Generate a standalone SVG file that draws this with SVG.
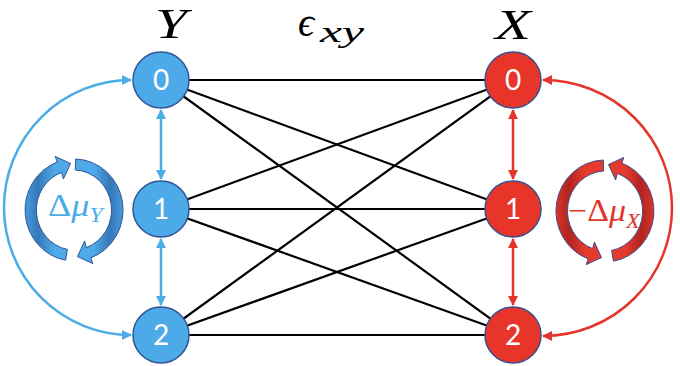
<svg xmlns="http://www.w3.org/2000/svg" width="680" height="366" viewBox="0 0 680 366">
<style>
.edge{stroke:#000;stroke-width:2.2;fill:none}
.blue{stroke:#4BACE6;stroke-width:2.5;fill:none}
.red{stroke:#E5352B;stroke-width:2.5;fill:none}
.nb{fill:#4DAAE8;stroke:#2F5597;stroke-width:1.5}
.nr{fill:#E8352A;stroke:#3B4F8F;stroke-width:1.5}
.num{font-family:Lato,"Open Sans","Liberation Sans",sans-serif;font-size:28px;fill:#fff;text-anchor:middle}
.math{font-family:"Liberation Serif","DejaVu Serif",serif;font-style:italic;fill:#000}
.lab{font-family:"Liberation Serif","DejaVu Serif",serif;font-size:31px}
</style>
<defs>
<marker id="ab" viewBox="0 0 10 10" refX="9" refY="5" markerUnits="userSpaceOnUse" markerWidth="11" markerHeight="10" orient="auto-start-reverse"><path d="M0,0 L10,5 L0,10 Z" fill="#4BACE6"/></marker>
<marker id="ar" viewBox="0 0 10 10" refX="9" refY="5" markerUnits="userSpaceOnUse" markerWidth="11" markerHeight="10" orient="auto-start-reverse"><path d="M0,0 L10,5 L0,10 Z" fill="#E5352B"/></marker>
<linearGradient id="gB" gradientUnits="userSpaceOnUse" x1="-50" y1="0" x2="50" y2="0">
<stop offset="0" stop-color="#4A9FE0"/><stop offset="0.14" stop-color="#3478B8"/><stop offset="0.3" stop-color="#4FA8E8"/><stop offset="0.7" stop-color="#4FA8E8"/><stop offset="0.86" stop-color="#3478B8"/><stop offset="1" stop-color="#4A9FE0"/>
</linearGradient>
<linearGradient id="gR" gradientUnits="userSpaceOnUse" x1="-50" y1="0" x2="50" y2="0">
<stop offset="0" stop-color="#E0362C"/><stop offset="0.14" stop-color="#B02420"/><stop offset="0.3" stop-color="#E63A2E"/><stop offset="0.7" stop-color="#E63A2E"/><stop offset="0.86" stop-color="#B02420"/><stop offset="1" stop-color="#E0362C"/>
</linearGradient>
<g id="circ">
<path d="M-8.5,50.2 A49,51 0 0 1 -16.8,-47.9 L-18.8,-53.6 L-3.5,-46.5 L-10.6,-31 L-12.4,-37.6 A38,40 0 0 0 -6.6,39.4 Z"/>
<path d="M1.7,-51 A49,51 0 0 1 16.8,47.9 L18.8,53.6 L3.5,46.6 L10.6,31 L12.4,37.6 A38,40 0 0 0 1.3,-40 Z"/>
</g>
</defs>

<g id="connectors">
<line class="edge" x1="161" y1="80" x2="513" y2="80"/>
<line class="edge" x1="161" y1="80" x2="513" y2="209"/>
<line class="edge" x1="161" y1="80" x2="513" y2="335"/>
<line class="edge" x1="161" y1="209" x2="513" y2="80"/>
<line class="edge" x1="161" y1="209" x2="513" y2="209"/>
<line class="edge" x1="161" y1="209" x2="513" y2="335"/>
<line class="edge" x1="161" y1="335" x2="513" y2="80"/>
<line class="edge" x1="161" y1="335" x2="513" y2="209"/>
<line class="edge" x1="161" y1="335" x2="513" y2="335"/>
<line class="blue" x1="161" y1="110" x2="161" y2="179" marker-start="url(#ab)" marker-end="url(#ab)"/>
<line class="blue" x1="161" y1="239" x2="161" y2="305" marker-start="url(#ab)" marker-end="url(#ab)"/>
<path class="blue" d="M131,80 A127,127.5 0 0 0 131,335" marker-start="url(#ab)" marker-end="url(#ab)"/>
<line class="red" x1="513" y1="110" x2="513" y2="179" marker-start="url(#ar)" marker-end="url(#ar)"/>
<line class="red" x1="513" y1="239" x2="513" y2="305" marker-start="url(#ar)" marker-end="url(#ar)"/>
<path class="red" d="M543,80 A129,128 0 0 1 543,336" marker-start="url(#ar)" marker-end="url(#ar)"/>
</g>

<g id="Y0"><circle class="nb" cx="161" cy="80" r="28"/><text class="num" x="161" y="90">0</text></g>
<g id="Y1"><circle class="nb" cx="161" cy="209" r="28"/><text class="num" x="161" y="219">1</text></g>
<g id="Y2"><circle class="nb" cx="161" cy="335" r="28"/><text class="num" x="161" y="345">2</text></g>
<g id="X0"><circle class="nr" cx="513" cy="80" r="28"/><text class="num" x="513" y="90">0</text></g>
<g id="X1"><circle class="nr" cx="513" cy="209" r="28"/><text class="num" x="513" y="219">1</text></g>
<g id="X2"><circle class="nr" cx="513" cy="335" r="28"/><text class="num" x="513" y="345">2</text></g>

<g id="labels">
<text class="math" x="155" y="38" font-size="42" textLength="32" lengthAdjust="spacingAndGlyphs">Y</text>
<text class="math" x="495" y="39" font-size="42" textLength="36" lengthAdjust="spacingAndGlyphs">X</text>
<text class="math" x="298" y="36" font-size="40">ϵ</text>
<text class="math" x="320" y="42" font-size="30" textLength="44" lengthAdjust="spacingAndGlyphs">xy</text>
</g>

<g id="muY">
<use href="#circ" transform="translate(74,210)" fill="url(#gB)" stroke="#2F5597" stroke-width="1"/>
<text class="lab" x="48" y="216" fill="#4BACE6" textLength="55" lengthAdjust="spacingAndGlyphs">Δ<tspan font-style="italic">μ</tspan><tspan font-style="italic" font-size="21" dy="6">Y</tspan></text>
</g>
<g id="muX">
<g transform="translate(605,211) scale(-1,1)"><use href="#circ" fill="url(#gR)" stroke="#3B4F8F" stroke-width="1"/></g>
<text class="lab" x="568" y="221" fill="#E3342A" textLength="72" lengthAdjust="spacingAndGlyphs">−Δ<tspan font-style="italic">μ</tspan><tspan font-style="italic" font-size="21" dy="7">X</tspan></text>
</g>
</svg>
